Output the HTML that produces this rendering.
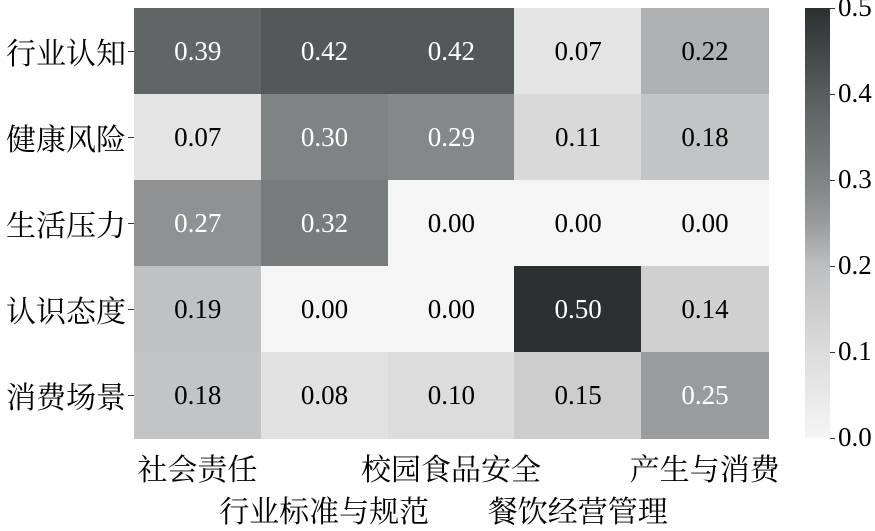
<!DOCTYPE html><html><head><meta charset="utf-8"><style>
body{margin:0;width:875px;height:525px;background:#fff;overflow:hidden;position:relative;font-family:"Liberation Serif","Noto Serif CJK SC",serif}
.c{position:absolute;display:flex;align-items:center;justify-content:center;font-size:27px}
.y{position:absolute;right:749px;font-size:30px;line-height:30px;white-space:nowrap;font-family:"Noto Serif CJK SC",serif}
.x{position:absolute;font-size:30px;width:260px;text-align:center;line-height:30px;font-family:"Noto Serif CJK SC",serif}
.t{position:absolute;left:838px;font-size:27px;line-height:27px}
.tk{position:absolute;left:830px;width:5px;height:1px;background:#333}
</style></head><body><div id="h"></div>
<div style="position:absolute;left:805px;top:8px;width:25px;height:430px;background:linear-gradient(to top,#f5f5f6 0%,#dcdcdd 20%,#bdbebf 40%,#9a9b9c 50%,#7f8384 60%,#575d5d 80%,#2b3131 100%)"></div>
<script>
var d=[[.39,.42,.42,.07,.22],[.07,.30,.29,.11,.18],[.27,.32,0,0,0],[.19,0,0,.50,.14],[.18,.08,.10,.15,.25]];
var st=[[0,[245,245,246]],[.1,[220,220,221]],[.2,[189,190,191]],[.25,[154,155,156]],[.3,[127,131,132]],[.4,[93,98,98]],[.5,[43,49,49]]];
function col(v){for(var i=0;i<st.length-1;i++){if(v<=st[i+1][0]){var f=(v-st[i][0])/(st[i+1][0]-st[i][0]);var a=st[i][1],b=st[i+1][1];return 'rgb('+a.map((x,k)=>Math.round(x+(b[k]-x)*f)).join(',')+')';}}return 'rgb(43,49,49)';}
var h='';var rl=['行业认知','健康风险','生活压力','认识态度','消费场景'];
for(var r=0;r<5;r++){h+='<div class="y" style="top:'+(8+86*r+28)+'px">'+rl[r]+'</div>';h+='<div style="position:absolute;left:128px;top:'+(8+86*r+43)+'px;width:6px;height:1px;background:#333"></div>';
for(var c=0;c<5;c++){var v=d[r][c];h+='<div class="c" style="left:'+(134+126.8*c)+'px;top:'+(8+86*r)+'px;width:127.5px;height:86.5px;background:'+col(v)+';color:'+(v>=.24?'#fff':'#000')+'">'+v.toFixed(2)+'</div>';}}
var xl=['社会责任','行业标准与规范','校园食品安全','餐饮经营管理','产生与消费'];
for(var c=0;c<5;c++){var cx=134+126.8*c+63.4;h+='<div class="x" style="left:'+(cx-130)+'px;top:'+(c%2?494:452)+'px">'+xl[c]+'</div>';}
var tl=['0.0','0.1','0.2','0.3','0.4','0.5'];
for(var i=0;i<6;i++){var y=438-86*i;h+='<div class="tk" style="top:'+y+'px"></div><div class="t" style="top:'+(y-14)+'px">'+tl[i]+'</div>';}
document.getElementById('h').innerHTML=h;
</script></body></html>
